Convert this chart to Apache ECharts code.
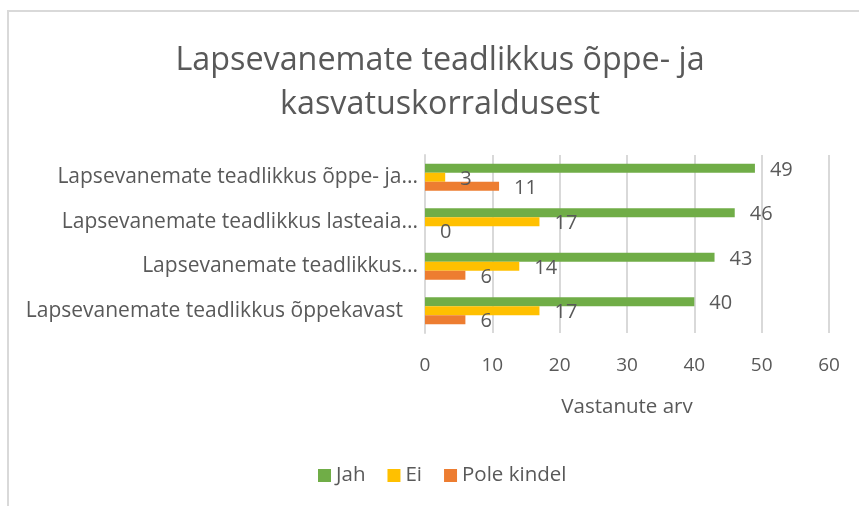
<!DOCTYPE html>
<html><head><meta charset="utf-8">
<script src="https://cdn.jsdelivr.net/npm/echarts@6/dist/echarts.min.js"></script>
<style>html,body{margin:0;padding:0;background:#fff}#c{width:859px;height:506px}</style>
</head><body><div id="c"></div>
<script>
const titleText = 'Lapsevanemate teadlikkus õppe- ja\nkasvatuskorraldusest';
const categories = [
  'Lapsevanemate teadlikkus õppe- ja...',
  'Lapsevanemate teadlikkus lasteaia...',
  'Lapsevanemate teadlikkus...',
  'Lapsevanemate teadlikkus õppekavast'
];
const seriesNames = ['Jah', 'Ei', 'Pole kindel'];
const jah = [49, 46, 43, 40];
const ei = [3, 17, 14, 17];
const poleKindel = [11, 0, 6, 6];
const xMin = 0, xMax = 60, xStep = 10;
const axisName = 'Vastanute arv';

const FONT = 'Open Sans';
const TXT = '#595959';
const colors = ['#70AD47', '#FFC000', '#ED7D31'];
const values = [jah, ei, poleKindel];

const catData = categories.map(c => c.endsWith('...')
  ? {value: c}
  : {value: c, textStyle: {padding: [0, 15, 0, 0]}});

const chart = echarts.init(document.getElementById('c'), null, {renderer: 'canvas'});
chart.setOption({
  animation: false,
  textStyle: {fontFamily: FONT},
  title: {
    text: titleText, left: 440, top: 39, padding: 0, textAlign: 'center',
    textStyle: {fontFamily: FONT, fontSize: 32.3, fontWeight: 'normal', color: TXT, lineHeight: 44}
  },
  graphic: [{
    type: 'rect', shape: {x: 8, y: 11, width: 900, height: 600},
    style: {fill: 'none', stroke: '#d9d9d9', lineWidth: 2}, silent: true
  }],
  legend: {
    data: seriesNames, left: 318, top: 465, itemWidth: 13, itemHeight: 13, itemGap: 22,
    icon: 'rect', padding: 0,
    textStyle: {fontFamily: FONT, fontSize: 20.5, color: TXT, padding: [0, 0, 0, 0]}
  },
  grid: {left: 425, right: 30, top: 155, bottom: 173, containLabel: false},
  xAxis: {
    type: 'value', min: xMin, max: xMax, interval: xStep,
    name: axisName, nameLocation: 'middle', nameGap: 64,
    nameTextStyle: {fontFamily: FONT, fontSize: 20.5, color: TXT},
    axisLine: {show: false}, axisTick: {show: false},
    axisLabel: {fontFamily: FONT, fontSize: 19, color: TXT, margin: 23},
    splitLine: {lineStyle: {color: '#d9d9d9', width: 2}}
  },
  yAxis: {
    type: 'category', data: catData, inverse: true,
    axisLine: {lineStyle: {color: '#d9d9d9', width: 2}}, axisTick: {show: false},
    axisLabel: {fontFamily: FONT, fontSize: 21, color: TXT, margin: 7}
  },
  series: seriesNames.map((n, i) => ({
    name: n, type: 'bar', data: values[i], barWidth: 9, barGap: '0%',
    itemStyle: {color: colors[i]},
    label: {show: true, position: 'right', distance: 15, offset: [0, 2],
      fontFamily: FONT, fontSize: 20, color: TXT}
  }))
});
</script></body></html>
